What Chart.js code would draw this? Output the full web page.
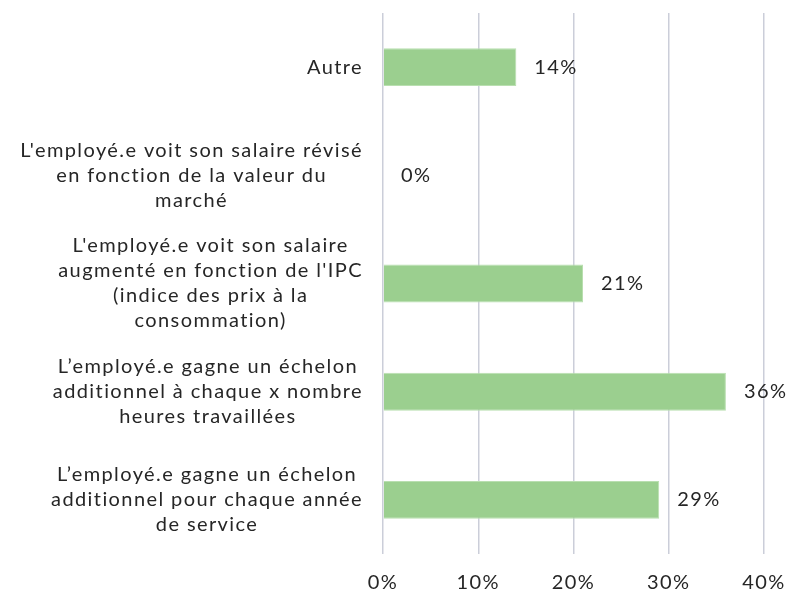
<!DOCTYPE html>
<html>
<head>
<meta charset="utf-8">
<script src="https://cdn.jsdelivr.net/npm/chart.js@4"></script>
<style>
  html, body { margin: 0; padding: 0; background: #fff; }
  #wrap { width: 788px; height: 595px; }
</style>
</head>
<body>
<div id="wrap"><canvas id="myChart" width="788" height="595"></canvas></div>
<script>
// categories, each one split into the lines it is shown on
var categories = [
    ['Autre'],
    ["L'employé.e voit son salaire révisé", 'en fonction de la valeur du', 'marché'],
    ["L'employé.e voit son salaire", "augmenté en fonction de l'IPC", '(indice des prix à la', 'consommation)'],
    ['L’employé.e gagne un échelon', 'additionnel à chaque x nombre', 'heures travaillées'],
    ['L’employé.e gagne un échelon', 'additionnel pour chaque année', 'de service']
];
var values = [14, 0, 21, 36, 29]; // percent
var xTicks = [0, 10, 20, 30, 40];

var FONT = 'Lato, "Open Sans", sans-serif';
var FONT_SIZE = 20;
var SPACING = '1.4px';
var TEXT = '#262626';

// wide letter spacing for every text on the canvas
var spacing = {
    id: 'spacing',
    beforeUpdate: function(chart) { chart.ctx.letterSpacing = SPACING; },
    beforeDraw: function(chart) { chart.ctx.letterSpacing = SPACING; }
};

// category labels: block right aligned, lines centred inside the block
var categoryLabels = {
    id: 'categoryLabels',
    afterDraw: function(chart) {
        var c = chart.ctx;
        var y = chart.scales.y;
        var right = chart.chartArea.left - 20;
        var lh = 25;
        c.save();
        c.letterSpacing = SPACING;
        c.font = FONT_SIZE + 'px ' + FONT;
        c.fillStyle = TEXT;
        c.textAlign = 'center';
        c.textBaseline = 'middle';
        categories.forEach(function(lines, i) {
            var w = 0;
            lines.forEach(function(l) { w = Math.max(w, c.measureText(l).width); });
            var cx = right - w / 2;
            var cy = y.getPixelForValue(i);
            var top = cy - (lines.length - 1) * lh / 2;
            lines.forEach(function(l, k) { c.fillText(l, cx, top + k * lh); });
        });
        c.restore();
    }
};

// value labels next to each bar
var valueLabels = {
    id: 'valueLabels',
    afterDatasetsDraw: function(chart) {
        var c = chart.ctx;
        c.save();
        c.letterSpacing = SPACING;
        c.font = FONT_SIZE + 'px ' + FONT;
        c.fillStyle = TEXT;
        c.textAlign = 'left';
        c.textBaseline = 'middle';
        chart.getDatasetMeta(0).data.forEach(function(bar, i) {
            c.fillText(values[i] + '%', bar.x + 18, bar.y);
        });
        c.restore();
    }
};

var ctx = document.getElementById('myChart').getContext('2d');
var chart = new Chart(ctx, {
    type: 'bar',
    data: {
        labels: categories,
        datasets: [{
            data: values,
            backgroundColor: '#9bcf8f',
            borderColor: '#b9dfb0',
            borderWidth: 1,
            categoryPercentage: 1,
            barPercentage: 0.35
        }]
    },
    options: {
        indexAxis: 'y',
        responsive: false,
        animation: false,
        layout: { padding: { top: 13, right: 24, left: 0, bottom: 0 } },
        plugins: {
            legend: { display: false },
            tooltip: { enabled: false }
        },
        scales: {
            x: {
                min: 0,
                max: 40,
                afterBuildTicks: function(axis) {
                    axis.ticks = xTicks.map(function(v) { return { value: v }; });
                },
                ticks: {
                    color: TEXT,
                    font: { family: FONT, size: FONT_SIZE },
                    padding: 17,
                    callback: function(v) { return v + '%'; }
                },
                grid: { color: '#cbced9', lineWidth: 1.5, drawTicks: false },
                border: { display: false },
                afterFit: function(axis) {
                    axis.height = 41;
                    axis.paddingLeft = 0;
                    axis.paddingRight = 0;
                }
            },
            y: {
                ticks: { display: false },
                grid: { display: false },
                border: { display: false },
                afterFit: function(axis) { axis.width = 383; }
            }
        }
    },
    plugins: [spacing, categoryLabels, valueLabels]
});
</script>
</body>
</html>
